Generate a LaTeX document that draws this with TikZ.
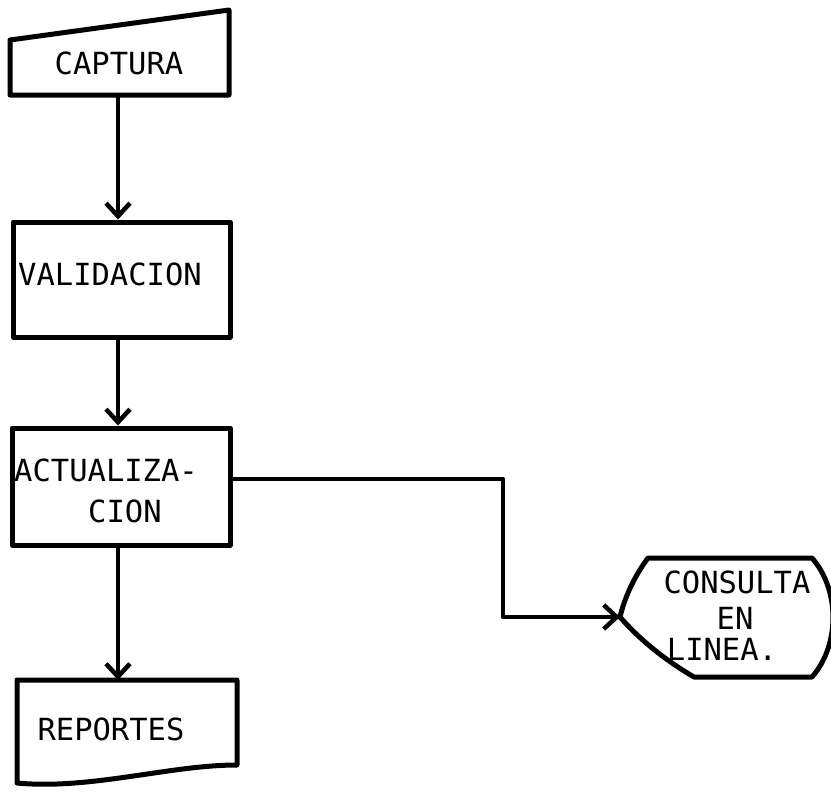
\documentclass[tikz,border=0pt]{standalone}
\usepackage{fontspec}
\setmonofont{DejaVu Sans Mono}
\usetikzlibrary{arrows.meta}
\begin{document}
\begin{tikzpicture}[x=1pt,y=-1pt,
  shapeline/.style={line width=5pt, line join=round},
  boxnode/.style={draw, shapeline, rectangle, inner sep=0pt},
  txt/.style={inner sep=0pt, font=\fontsize{30.5}{36}\selectfont\ttfamily},
  conn/.style={line width=4.5pt, line join=round},
  arr/.style={conn, -{Straight Barb[length=13pt,width=24pt,line width=4.5pt]}}]
\useasboundingbox (0,0) rectangle (831,795);

% CAPTURA (manual input)
\draw[shapeline] (10,40) -- (229,10) -- (229,95) -- (10,95) -- cycle;
\node[txt] (captxt) at (119,63) {CAPTURA};
\coordinate (capb) at (118,95);

% VALIDACION
\node[boxnode, minimum width=217pt, minimum height=115pt] (val) at (121.5,279.5) {};
\node[txt] (valtxt) at (110,274) {VALIDACION};

% ACTUALIZACION
\node[boxnode, minimum width=218pt, minimum height=117pt] (act) at (121,486.5) {};
\node[txt, anchor=west] (acttxt1) at (14,470) {ACTUALIZA-};
\node[txt, anchor=west] (acttxt2) at (88,511) {CION};

% REPORTES (document)
\draw[shapeline] (17,680) -- (237,680) -- (237,765)
  .. controls (170,765) and (90,790) .. (17,783) -- cycle;
\node[txt] (reptxt) at (111,729) {REPORTES};
\coordinate (reptop) at (118,680);

% CONSULTA EN LINEA (display)
\draw[shapeline] (620,617) .. controls (624,600) and (633,578) .. (648,558)
  -- (812,558) .. controls (840,590) and (840,645) .. (812,677)
  -- (694,677) .. controls (665,660) and (640,640) .. (620,617) -- cycle;
\node[txt] (contxt1) at (737,582) {CONSULTA};
\node[txt] (contxt2) at (735,618) {EN};
\node[txt] (contxt3) at (722,649) {LINEA.};
\coordinate (contip) at (620,617);

% connectors
\draw[arr] (capb) -- (capb |- val.north);
\draw[arr] (val.south -| capb) -- (act.north -| capb);
\draw[arr] (act.south -| capb) -- (reptop);
\coordinate (actout) at (230,479);
\coordinate (bend) at (503,617);
\draw[arr] (actout) -| (bend) -- (contip);
\end{tikzpicture}
\end{document}
